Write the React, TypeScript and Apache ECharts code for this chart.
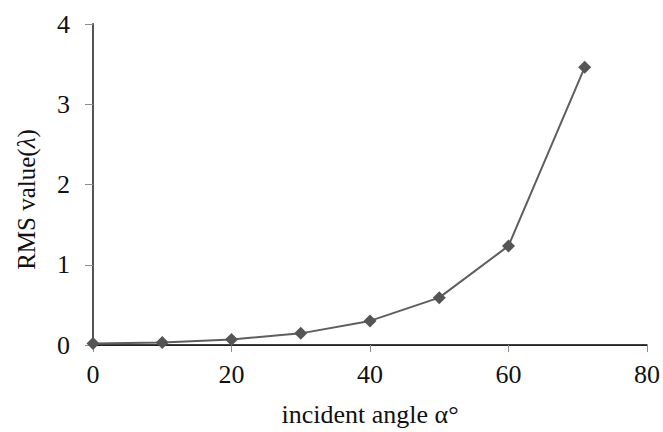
import React, { useEffect, useRef } from "react";
import * as echarts from "echarts";

const angles = [0, 10, 20, 30, 40, 50, 60, 71];
const rmsValues = [0.02, 0.03, 0.07, 0.145, 0.3, 0.59, 1.235, 3.46];
const xTicks = [0, 20, 40, 60, 80];
const yTicks = [0, 1, 2, 3, 4];
const xName = "incident angle α°";

const FONT = "'Liberation Serif', 'Times New Roman', serif";

export default function App() {
  const ref = useRef<HTMLDivElement>(null);
  useEffect(() => {
    if (!ref.current) return;
    const chart = echarts.init(ref.current, undefined, { renderer: "svg" });
    chart.setOption({
      animation: false,
      backgroundColor: "#ffffff",
      grid: { left: 93, right: 13, top: 24, bottom: 77, containLabel: false },
      xAxis: [
        {
          type: "value",
          min: xTicks[0],
          max: xTicks[xTicks.length - 1],
          interval: 20,
          name: xName,
          nameLocation: "middle",
          nameGap: 56,
          nameTextStyle: { fontFamily: FONT, fontSize: 26, color: "#111" },
          axisLine: { show: true, lineStyle: { color: "#8c8c8c", width: 1 } },
          axisTick: { show: true, inside: false, length: 7, lineStyle: { color: "#8c8c8c" } },
          axisLabel: { fontFamily: FONT, fontSize: 26, color: "#111", margin: 16 },
          splitLine: { show: false },
        },
        {
          type: "value",
          position: "top",
          min: 0,
          max: 80,
          interval: 20,
          axisLine: { show: true, lineStyle: { color: "#000", width: 1.5 } },
          axisTick: { show: false },
          axisLabel: { show: false },
          splitLine: { show: false },
        },
      ],
      yAxis: [
        {
          type: "value",
          min: yTicks[0],
          max: yTicks[yTicks.length - 1],
          interval: 1,
          name: "RMS value({i|λ})",
          nameLocation: "middle",
          nameGap: 54,
          nameTextStyle: {
            fontFamily: FONT,
            fontSize: 25,
            color: "#111",
            padding: [0, 30, 0, 0],
            rich: { i: { fontFamily: FONT, fontSize: 25, fontStyle: "italic", color: "#111" } },
          },
          axisLine: { show: true, lineStyle: { color: "#8c8c8c", width: 1 } },
          axisTick: { show: true, inside: false, length: 8, lineStyle: { color: "#8c8c8c" } },
          axisLabel: { fontFamily: FONT, fontSize: 26, color: "#111", margin: 23 },
          splitLine: { show: false },
        },
        {
          type: "value",
          position: "right",
          min: 0,
          max: 4,
          interval: 1,
          axisLine: { show: true, lineStyle: { color: "#555", width: 2 } },
          axisTick: { show: false },
          axisLabel: { show: false },
          splitLine: { show: false },
        },
      ],
      series: [
        {
          type: "line",
          xAxisIndex: 0,
          yAxisIndex: 0,
          data: angles.map((a, i) => [a, rmsValues[i]]),
          symbol: "diamond",
          symbolSize: [13, 13],
          showAllSymbol: true,
          lineStyle: { color: "#5e5e5e", width: 2 },
          itemStyle: { color: "#555555" },
        },
      ],
    });
    return () => chart.dispose();
  }, []);
  return (
    <div
      ref={ref}
      style={{ position: "fixed", left: 0, top: 0, width: 663, height: 432, background: "#fff" }}
    />
  );
}
